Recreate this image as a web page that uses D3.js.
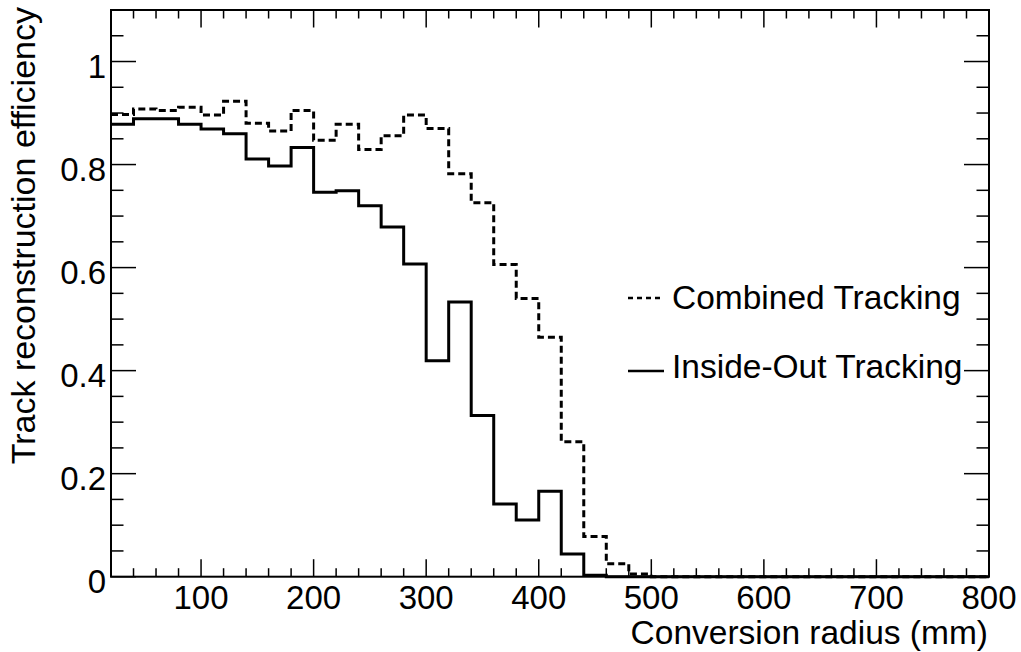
<!DOCTYPE html>
<html>
<head>
<meta charset="utf-8">
<script src="https://cdn.jsdelivr.net/npm/d3@7"></script>
<style>
  html, body { margin: 0; padding: 0; background: #fff; }
  svg { display: block; }
  text { font-family: "Liberation Sans", Arial, Helvetica, sans-serif; fill: #000; }
</style>
</head>
<body>
<svg id="chart" width="1021" height="652"></svg>
<script>
// ---- data ----
const binEdges = d3.range(20, 801, 20); // 20,40,...,800 (39 bins)
const combinedTracking = [
  0.897, 0.908, 0.905, 0.911, 0.896, 0.923, 0.880, 0.865, 0.905, 0.847,
  0.878, 0.829, 0.856, 0.896, 0.870, 0.782, 0.726, 0.606, 0.540, 0.465,
  0.262, 0.078, 0.025, 0.005, 0, 0, 0, 0, 0, 0,
  0, 0, 0, 0, 0, 0, 0, 0, 0
];
const insideOutTracking = [
  0.878, 0.889, 0.889, 0.878, 0.869, 0.860, 0.811, 0.797, 0.833, 0.746,
  0.749, 0.720, 0.679, 0.607, 0.419, 0.533, 0.313, 0.141, 0.110, 0.166,
  0.044, 0.003, 0, 0, 0, 0, 0, 0, 0, 0,
  0, 0, 0, 0, 0, 0, 0, 0, 0
];
const xTickLabels = [100, 200, 300, 400, 500, 600, 700, 800];
const yTickLabels = [0, 0.2, 0.4, 0.6, 0.8, 1];
const seriesNames = ["Combined Tracking", "Inside-Out Tracking"];
const xTitle = "Conversion radius (mm)";
const yTitle = "Track reconstruction efficiency";

// ---- layout ----
const svg = d3.select("#chart");
const L = 111, R = 989, T = 10, B = 576.7;
const x = d3.scaleLinear().domain([20, 800]).range([L, R]);
const y = d3.scaleLinear().domain([0, 1.1]).range([B, T]);

const gTicks = svg.append("g").attr("stroke", "#000").attr("stroke-width", 1.5);

// x ticks (bottom and top)
const xMinor = d3.range(20, 801, 20);
xMinor.forEach(v => {
  const major = v % 100 === 0;
  const len = major ? 17.5 : 8.5;
  gTicks.append("line").attr("x1", x(v)).attr("x2", x(v)).attr("y1", B).attr("y2", B - len);
  gTicks.append("line").attr("x1", x(v)).attr("x2", x(v)).attr("y1", T).attr("y2", T + len);
});
// y ticks (left and right)
const yMinor = d3.range(0, 1.1001, 0.05);
yMinor.forEach((v, i) => {
  const major = i % 4 === 0;
  const len = major ? 25 : 12.5;
  gTicks.append("line").attr("y1", y(v)).attr("y2", y(v)).attr("x1", L).attr("x2", L + len);
  gTicks.append("line").attr("y1", y(v)).attr("y2", y(v)).attr("x1", R).attr("x2", R - len);
});

// tick labels
svg.append("g").selectAll("text").data(xTickLabels).join("text")
  .attr("x", d => x(d)).attr("y", 608.5)
  .attr("text-anchor", "middle").attr("font-size", 33)
  .text(d => d);
svg.append("g").selectAll("text").data(yTickLabels).join("text")
  .attr("x", 106).attr("y", d => y(d) + 16)
  .attr("text-anchor", "end").attr("font-size", 33)
  .text(d => d);

// axis titles
svg.append("text").attr("x", 988).attr("y", 644)
  .attr("text-anchor", "end").attr("font-size", 33.5).text(xTitle);
svg.append("text").attr("transform", "translate(35,7) rotate(-90)")
  .attr("text-anchor", "end").attr("font-size", 34).text(yTitle);

// histograms
function stepPoints(vals) {
  const pts = vals.map((v, i) => [binEdges[i], v]);
  pts.push([binEdges[binEdges.length - 1], vals[vals.length - 1]]);
  return pts;
}
const line = d3.line().x(d => x(d[0])).y(d => y(d[1])).curve(d3.curveStepAfter);

svg.append("path").datum(stepPoints(insideOutTracking))
  .attr("d", line).attr("fill", "none").attr("stroke", "#000").attr("stroke-width", 3);
svg.append("path").datum(stepPoints(combinedTracking))
  .attr("d", line).attr("fill", "none").attr("stroke", "#000").attr("stroke-width", 3)
  .attr("stroke-dasharray", "7 4");

// frame
svg.append("rect").attr("x", L).attr("y", T).attr("width", R - L).attr("height", B - T)
  .attr("fill", "none").attr("stroke", "#000").attr("stroke-width", 2);

// legend
const legend = svg.append("g");
const legY = [298, 371];
const legBase = [309, 377.5];
legend.append("line").attr("x1", 628).attr("x2", 664).attr("y1", legY[0]).attr("y2", legY[0])
  .attr("stroke", "#000").attr("stroke-width", 2.5).attr("stroke-dasharray", "5 4");
legend.append("line").attr("x1", 628).attr("x2", 664).attr("y1", legY[1]).attr("y2", legY[1])
  .attr("stroke", "#000").attr("stroke-width", 2.5);
seriesNames.forEach((n, i) => {
  legend.append("text").attr("x", 672).attr("y", legBase[i]).attr("font-size", 33.5).text(n);
});
</script>
</body>
</html>
